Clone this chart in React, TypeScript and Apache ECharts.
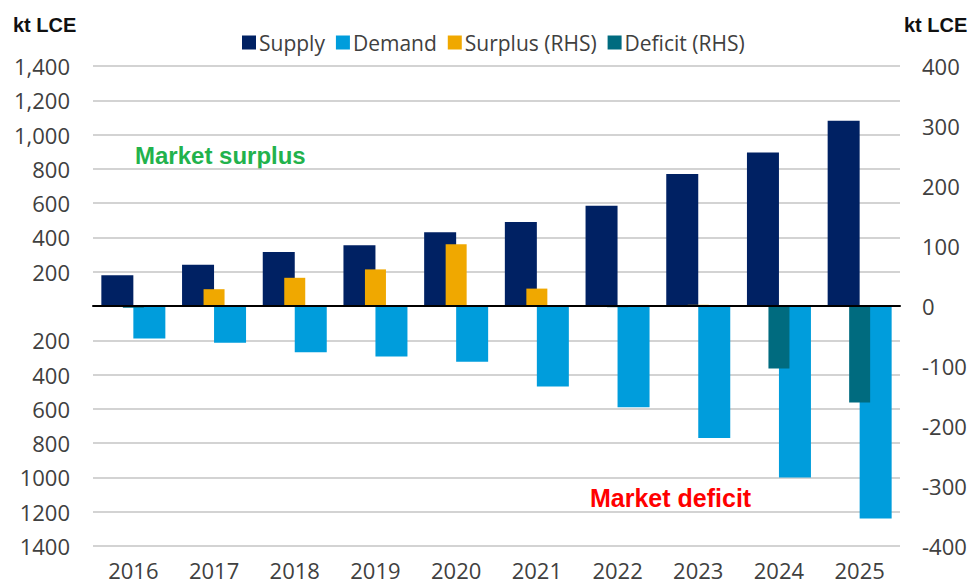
import React, { useEffect, useRef } from "react";
import * as echarts from "echarts";

const years = ["2016", "2017", "2018", "2019", "2020", "2021", "2022", "2023", "2024", "2025"];
const supply = [180, 240, 315, 355, 430, 490, 585, 770, 895, 1080];
const demand = [-190, -215, -270, -295, -325, -470, -590, -770, -1000, -1240];
const surplus: (number | null)[] = [null, 28, 47, 61, 103, 29, null, 2, null, null];
const deficit: (number | null)[] = [-3, null, null, null, null, null, -2, null, -104, -161];

const leftTickValues = [-1400, -1200, -1000, -800, -600, -400, -200, 0, 200, 400, 600, 800, 1000, 1200, 1400];
const leftTickLabels = ["1400", "1200", "1000", "800", "600", "400", "200", "", "200", "400", "600", "800", "1,000", "1,200", "1,400"];
const rightTickValues = [-400, -300, -200, -100, 0, 100, 200, 300, 400];
const rightTickLabels = ["-400", "-300", "-200", "-100", "0", "100", "200", "300", "400"];

const FONT = "'Open Sans', 'Noto Sans', sans-serif";
const LABEL = "#404040";

export default function App() {
  const ref = useRef<HTMLDivElement>(null);
  useEffect(() => {
    if (!ref.current) return;
    const chart = echarts.init(ref.current, undefined, { renderer: "svg" });
    chart.setOption({
      animation: false,
      backgroundColor: "#ffffff",
      textStyle: { fontFamily: FONT },
      legend: {
        left: 242,
        top: 32,
        padding: 0,
        itemWidth: 14,
        itemHeight: 14,
        itemGap: 11,
        icon: "rect",
        textStyle: { fontFamily: FONT, fontSize: 21, color: LABEL, padding: [0, 0, 0, -2] },
        data: ["Supply", "Demand", "Surplus (RHS)", "Deficit (RHS)"],
      },
      grid: { left: 93, right: 71, top: 66, bottom: 42, containLabel: false },
      xAxis: [
        {
          type: "category",
          data: years,
          axisLine: { show: false, onZero: false },
          axisTick: { show: false },
          axisLabel: { fontFamily: FONT, fontSize: 22, color: LABEL, margin: 13 },
          splitLine: { show: false },
        },
        {
          type: "category",
          data: years,
          position: "bottom",
          z: 10,
          axisLine: { show: true, onZero: true, lineStyle: { color: "#000000", width: 2 } },
          axisTick: { show: false },
          axisLabel: { show: false },
          splitLine: { show: false },
        },
      ],
      yAxis: [
        {
          type: "value",
          min: -1400,
          max: 1400,
          interval: 200,
          axisLine: { show: false },
          axisTick: { show: false },
          splitLine: { show: true, lineStyle: { color: "#c4c4c4", width: 1.5 } },
          axisLabel: {
            fontFamily: FONT,
            fontSize: 22,
            color: LABEL,
            margin: 23,
            formatter: (v: number) => {
              const i = leftTickValues.indexOf(v);
              return i >= 0 ? leftTickLabels[i] : "";
            },
          },
        },
        {
          type: "value",
          min: -400,
          max: 400,
          interval: 100,
          position: "right",
          axisLine: { show: false },
          axisTick: { show: false },
          splitLine: { show: false },
          axisLabel: {
            fontFamily: FONT,
            fontSize: 22,
            color: LABEL,
            margin: 22,
            formatter: (v: number) => {
              const i = rightTickValues.indexOf(v);
              return i >= 0 ? rightTickLabels[i] : "";
            },
          },
        },
      ],
      series: [
        {
          name: "Supply",
          type: "bar",
          xAxisIndex: 0,
          yAxisIndex: 0,
          data: supply,
          barWidth: 32,
          barGap: "0%",
          itemStyle: { color: "#002163" },
        },
        {
          name: "Demand",
          type: "bar",
          xAxisIndex: 0,
          yAxisIndex: 0,
          data: demand,
          barWidth: 32,
          barGap: "0%",
          itemStyle: { color: "#009ddc" },
        },
        {
          name: "Surplus (RHS)",
          type: "bar",
          xAxisIndex: 1,
          yAxisIndex: 1,
          stack: "rhs",
          data: surplus,
          barWidth: 21,
          itemStyle: { color: "#f0a800" },
        },
        {
          name: "Deficit (RHS)",
          type: "bar",
          xAxisIndex: 1,
          yAxisIndex: 1,
          stack: "rhs",
          data: deficit,
          barWidth: 21,
          itemStyle: { color: "#006b7f" },
        },
      ],
      graphic: [
        {
          type: "text",
          left: 13,
          top: 15,
          style: { text: "kt LCE", font: "bold 20px 'Liberation Sans', Arial, sans-serif", fill: "#111111" },
        },
        {
          type: "text",
          left: 904,
          top: 15,
          style: { text: "kt LCE", font: "bold 20px 'Liberation Sans', Arial, sans-serif", fill: "#111111" },
        },
        {
          type: "text",
          x: 135,
          y: 155,
          style: {
            text: "Market surplus",
            font: "bold 24px 'Liberation Sans', Arial, sans-serif",
            fill: "#22b24c",
            textVerticalAlign: "middle",
          },
        },
        {
          type: "text",
          x: 590,
          y: 498,
          style: {
            text: "Market deficit",
            font: "bold 25px 'Liberation Sans', Arial, sans-serif",
            fill: "#ff0000",
            textVerticalAlign: "middle",
          },
        },
      ],
    });
    return () => chart.dispose();
  }, []);
  return <div ref={ref} style={{ width: 971, height: 588, position: "absolute", left: 0, top: 0 }} />;
}
